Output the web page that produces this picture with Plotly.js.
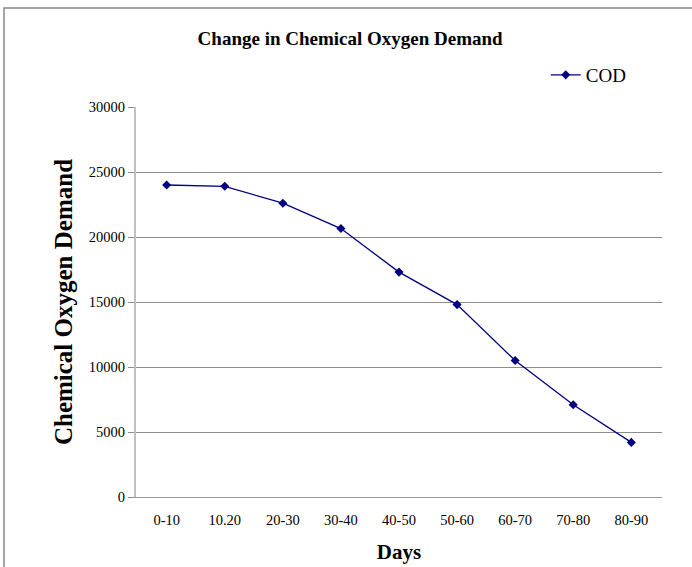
<!DOCTYPE html>
<html>
<head>
<meta charset="utf-8">
<script src="https://cdn.plot.ly/plotly-3.0.1.min.js"></script>
<style>
html,body{margin:0;padding:0;background:#fff;}
#chart{width:692px;height:567px;}
</style>
</head>
<body>
<div id="chart"></div>
<script>
const categories = ["0-10", "10.20", "20-30", "30-40", "40-50", "50-60", "60-70", "70-80", "80-90"];
const codValues = [24000, 23900, 22600, 20650, 17300, 14800, 10500, 7100, 4200];
const yTickValues = [0, 5000, 10000, 15000, 20000, 25000, 30000];
const seriesName = "COD";

const serif = "'Liberation Serif', 'Times New Roman', serif";

const trace = {
  x: categories,
  y: codValues,
  type: "scatter",
  mode: "lines+markers",
  name: seriesName,
  line: {color: "#000080", width: 1.3},
  marker: {symbol: "diamond", size: 7, color: "#000080"}
};

const layout = {
  width: 692,
  height: 567,
  margin: {l: 136, r: 30, t: 107, b: 70},
  paper_bgcolor: "#ffffff",
  plot_bgcolor: "#ffffff",
  font: {family: serif, color: "#000000", size: 14.5},
  title: {
    text: "<b>Change in Chemical Oxygen Demand</b>",
    font: {family: serif, size: 19, color: "#000000"},
    x: 0.506, xanchor: "center", xref: "container",
    y: 0.932, yanchor: "middle", yref: "container"
  },
  showlegend: true,
  legend: {
    x: 0.779, xanchor: "left", xref: "paper",
    y: 1.082, yanchor: "middle", yref: "paper",
    font: {family: serif, size: 19, color: "#000000"},
    bgcolor: "rgba(0,0,0,0)"
  },
  xaxis: {
    type: "category",
    showgrid: false,
    showline: true,
    linecolor: "#999999",
    linewidth: 1,
    ticks: "",
    tickfont: {family: serif, size: 14.5, color: "#000000"},
    ticklabelstandoff: 10,
    title: {text: "<b>Days</b>", font: {family: serif, size: 21, color: "#000000"}, standoff: 16},
    zeroline: false,
    automargin: false,
    fixedrange: true
  },
  yaxis: {
    range: [0, 30000],
    tickvals: yTickValues,
    ticktext: yTickValues.map(String),
    showgrid: true,
    gridcolor: "#8c8c8c",
    gridwidth: 1,
    showline: true,
    linecolor: "#c0c0c0",
    linewidth: 2,
    ticks: "outside",
    ticklen: 6,
    tickcolor: "#8c8c8c",
    tickfont: {family: serif, size: 14.5, color: "#000000"},
    title: {text: "<b>Chemical Oxygen Demand</b>", font: {family: serif, size: 25, color: "#000000"}, standoff: 9},
    zeroline: false,
    automargin: false,
    fixedrange: true
  },
  shapes: [{
    type: "rect", xref: "paper", yref: "paper",
    x0: (4 - 136) / 526, x1: 1.2,
    y0: -0.25, y1: (497 - 8) / 390,
    line: {color: "#888888", width: 1.5},
    fillcolor: "rgba(0,0,0,0)", layer: "below"
  }]
};

Plotly.newPlot("chart", [trace], layout, {displayModeBar: false, staticPlot: true});
</script>
</body>
</html>
